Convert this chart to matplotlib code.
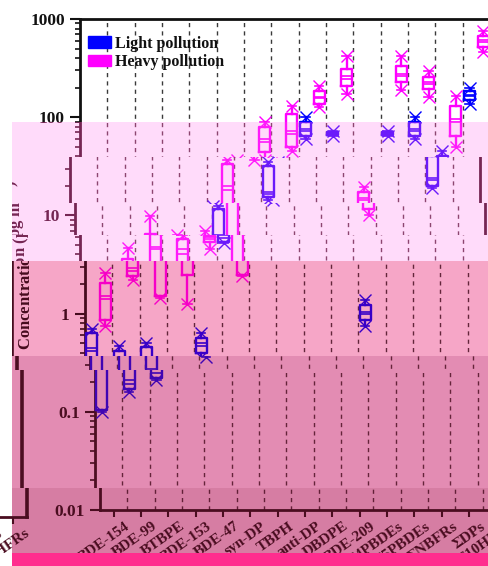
import matplotlib
matplotlib.use("Agg")
import matplotlib.pyplot as plt
from matplotlib.colors import to_rgb
from matplotlib.patches import Patch, Rectangle
from matplotlib.transforms import Bbox, TransformedBbox, ScaledTranslation

plt.rcParams['font.family'] = ['Liberation Serif', 'DejaVu Serif']
plt.rcParams['font.weight'] = 'bold'
plt.rcParams['mathtext.fontset'] = 'stix'

categories = ["BDE-154", "BDE-99", "BTBPE", "BDE-153", "BDE-47", "syn-DP", "TBPH",
              "anti-DP", "DBDPE", "BDE-209", "Σ4PBDEs", "Σ5PBDEs", "ΣNBFRs", "ΣDPs",
              "Σ10HFRs"]

# light pollution, None = not detected
light_low = [0.10, 0.16, 0.21, None, 0.36, 5.2, None, 14.5, 60, 64, 0.74, 64, 60, 19, 135]
light_q1 = [0.105, 0.17, 0.22, None, 0.40, 5.4, None, 15.5, 64, 66, 0.87, 66, 64, 20, 150]
light_med = [0.42, 0.19, 0.25, None, 0.47, 5.9, None, 16.5, 76, 68, 1.05, 68, 72, 23, 165]
light_mean = [0.45, 0.21, 0.27, None, 0.50, 6.3, None, 17.5, 72, 68, 0.98, 69, 76, 24, 170]
light_q3 = [0.63, 0.42, 0.46, None, 0.57, 11.5, None, 31.6, 90, 70, 1.23, 70, 90, 40, 184]
light_high = [0.70, 0.47, 0.50, None, 0.64, 12.6, None, 35, 100, 72, 1.39, 73, 100, 45, 200]

# heavy pollution
heavy_low = [0.74, 2.2, 1.45, 1.24, 4.5, 2.4, 37, 45, 126, 172, 10.2, 190, 160, 50, 460]
heavy_q1 = [0.87, 2.4, 1.5, 2.5, 5.3, 2.5, 44, 50, 135, 207, 11.5, 228, 195, 64, 520]
heavy_med = [1.4, 2.7, 4.5, 4.0, 5.8, 18, 56, 67, 158, 245, 14.5, 265, 220, 90, 590]
heavy_mean = [1.5, 2.9, 4.8, 4.6, 6.0, 20, 60, 72, 162, 260, 15, 275, 228, 96, 610]
heavy_q3 = [2.07, 3.6, 6.4, 5.7, 6.2, 33, 80, 107, 184, 309, 17.5, 330, 255, 130, 673]
heavy_high = [2.6, 4.7, 9.8, 6.3, 7.0, 37, 89, 130, 207, 418, 19.3, 420, 295, 163, 753]

ytick_vals = [0.01, 0.1, 1, 10, 100, 1000]
ytick_text = ["0.01", "0.1", "1", "10", "100", "1000"]

W, H = 489, 566
BLUE = '#0000ff'
MAGENTA = '#ff00ff'
INK = '#111111'
GRIDC = '#3a3a3a'

WHITE = ((1, 1, 1), (0, 0, 0))
PINK1 = ((1.0, 0.86, 0.98), (0.42, 0.10, 0.28))
PINK2 = ((0.965, 0.65, 0.78), (0.22, 0.0, 0.07))
PINK3 = ((0.89, 0.55, 0.70), (0.25, 0.02, 0.09))
PINK4 = ((0.84, 0.49, 0.64), (0.25, 0.02, 0.09))

# glitch bands: top, bottom (px), horizontal shift (px), tint
bands = [
    (0, 122, 0, WHITE),
    (122, 157, 0, PINK1),
    (157, 203, -10, PINK1),
    (203, 235, -5, PINK1),
    (235, 261, 0, PINK1),
    (261, 356, 5, PINK2),
    (356, 370, 10, PINK3),
    (370, 488, 15, PINK3),
    (488, 553, 20, PINK4),
]


def shade(c, tint):
    bg, dark = tint
    return tuple(v * (b - d) + d for v, b, d in zip(to_rgb(c), bg, dark))


def px_rect(left, top, right, bottom):
    return [left / W, 1 - bottom / H, (right - left) / W, (bottom - top) / H]


def group_stats(lo, q1, med, mean, q3, hi):
    st, pos = [], []
    for i in range(len(categories)):
        if lo[i] is None:
            continue
        st.append(dict(whislo=lo[i], q1=q1[i], med=med[i], mean=mean[i],
                       q3=q3[i], whishi=hi[i], fliers=[]))
        pos.append(i)
    return st, pos


def draw_boxes(ax, stats, pos, color):
    props = dict(color=color, lw=1.7)
    thin = dict(color=color, lw=1.2)
    ax.bxp(stats, positions=pos, widths=0.4, showmeans=True, meanline=True,
           boxprops=props, whiskerprops=props, capprops=thin,
           medianprops=thin, meanprops=dict(color=color, lw=1.2, ls='-'),
           capwidths=0.3, manage_ticks=False, zorder=3)
    ax.plot(pos, [s['whislo'] for s in stats], ls='none', marker='x', ms=9,
            mew=1.0, color=color, zorder=4)
    ax.plot(pos, [s['whishi'] for s in stats], ls='none', marker='x', ms=9,
            mew=1.0, color=color, zorder=4)


def style_axis(ax, tint):
    ink = shade(INK, tint)
    for s in ax.spines.values():
        s.set_linewidth(2)
        s.set_color(ink)
    ax.set_xlim(-0.5, 14.5)
    ax.set_yscale('log')
    ax.set_ylim(0.01, 1000)
    ax.set_xticks(range(len(categories)))
    ax.set_xticklabels(categories, rotation=35, ha='right', va='top',
                       rotation_mode='anchor', fontsize=11, fontweight='bold',
                       color=ink)
    ax.tick_params(axis='x', direction='out', length=5, width=1.5, color=ink, pad=2)
    ax.tick_params(axis='y', which='major', direction='out', length=7, width=1.5,
                   color=ink, labelsize=12.5, labelcolor=ink, pad=4)
    ax.tick_params(axis='y', which='minor', direction='out', length=3.6, width=1.2,
                   color=ink)
    ax.patch.set_visible(False)


light_stats, light_pos = group_stats(light_low, light_q1, light_med, light_mean,
                                     light_q3, light_high)
heavy_stats, heavy_pos = group_stats(heavy_low, heavy_q1, heavy_med, heavy_mean,
                                     heavy_q3, heavy_high)


def draw_main(ax, tint):
    style_axis(ax, tint)
    ax.set_yticks(ytick_vals)
    ax.set_yticklabels(ytick_text)
    for i in range(len(categories) - 1):
        ax.axvline(i + 0.5, color=shade(GRIDC, tint), ls=(0, (3, 3)), lw=1, zorder=1)
    draw_boxes(ax, light_stats, [p - 0.25 for p in light_pos], shade(BLUE, tint))
    draw_boxes(ax, heavy_stats, [p + 0.25 for p in heavy_pos], shade(MAGENTA, tint))
    ax.set_ylabel('Concentration (pg m$^{\\mathbf{-3}}$)', fontsize=12,
                  fontweight='bold', color=shade(INK, tint))
    ax.yaxis.set_label_coords(-0.115, 0.5)
    handles = [Patch(facecolor=shade(BLUE, tint), edgecolor=shade(BLUE, tint)),
               Patch(facecolor=shade(MAGENTA, tint), edgecolor=shade(MAGENTA, tint))]
    leg = ax.legend(handles, ['Light pollution', 'Heavy pollution'], loc='upper left',
                    bbox_to_anchor=(0.02, 0.966), frameon=False, borderpad=0,
                    borderaxespad=0, handlelength=1.45, handleheight=0.75,
                    handletextpad=0.25, labelspacing=0.15,
                    prop=dict(size=11.5, weight='bold'))
    for t in leg.get_texts():
        t.set_color(shade(INK, tint))


def draw_neighbor(ax, tint):
    style_axis(ax, tint)
    ax.spines['left'].set_visible(False)
    ax.spines['top'].set_visible(False)
    ax.spines['right'].set_linewidth(2.6)
    ax.set_yticks([])
    ax.minorticks_off()


fig = plt.figure(figsize=(W / 100, H / 100), dpi=100)
fig.patch.set_facecolor('white')

panels = []
for top, bottom, dx, tint in bands:
    if tint is not WHITE:
        fig.add_artist(Rectangle((12 / W, 1 - bottom / H), (W - 12) / W,
                                 (bottom - top) / H, transform=fig.transFigure,
                                 facecolor=tint[0], edgecolor='none', zorder=-10))
    ax = fig.add_axes(px_rect(80 + dx, 19, 490 + dx, 510))
    nb = fig.add_axes(px_rect(-403 + dx, 19, 7 + dx, 517))
    draw_main(ax, tint)
    draw_neighbor(nb, tint)
    x0 = 0 if top >= 488 else 12
    panels.append((ax, nb, x0, top, bottom))

fig.add_artist(Rectangle((12 / W, 0), (W - 12) / W, (H - 553) / H,
                         transform=fig.transFigure, facecolor='#ff2d8e',
                         edgecolor='none', zorder=5))

fig.canvas.draw()
shift = ScaledTranslation(0.11, 0, fig.dpi_scale_trans)
for ax, nb, x0, top, bottom in panels:
    clip = TransformedBbox(Bbox.from_extents(x0 / W, 1 - bottom / H, 1, 1 - top / H),
                           fig.transFigure)
    for a in (ax, nb):
        for lab in a.get_xticklabels():
            lab.set_transform(lab.get_transform() + shift)
        for art in a.findobj(include_self=False):
            art.set_clip_box(clip)
            art.set_clip_on(True)

fig.savefig('out.png', dpi=100)
